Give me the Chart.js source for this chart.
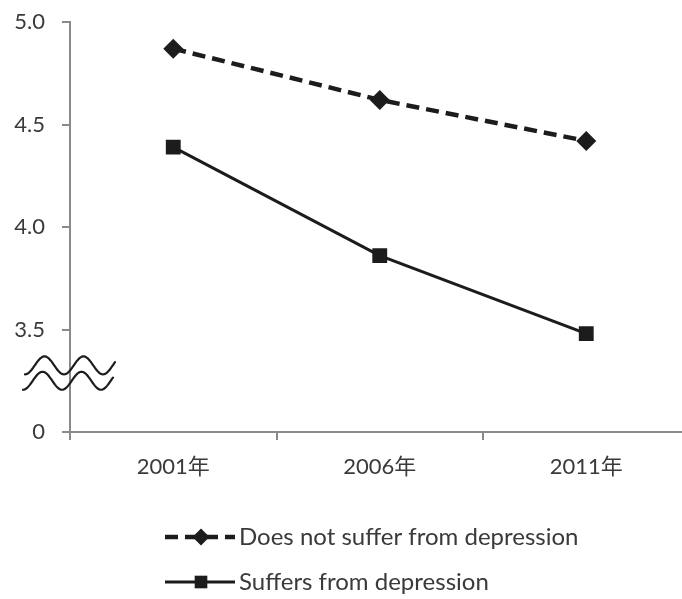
<!DOCTYPE html>
<html>
<head>
<meta charset="utf-8">
<script src="https://cdn.jsdelivr.net/npm/chart.js@4"></script>
<style>
  html, body { margin: 0; padding: 0; background: #fff; overflow: hidden; }
  #wrap { width: 682px; height: 599px; overflow: hidden; position: relative; }
  canvas { display: block; }
</style>
</head>
<body>
<div id="wrap"><canvas id="chart" width="700" height="599"></canvas></div>
<script>
// Survey years
const years = ['2001年', '2006年', '2011年'];
// Mean scores by group
const notDepressed = [4.87, 4.62, 4.42];
const depressed = [4.39, 3.86, 3.48];
const seriesNames = ['Does not suffer from depression', 'Suffers from depression'];
// Y axis: the bottom tick stands for zero (axis is broken below 3.5)
const yTickValues = [3.0, 3.5, 4.0, 4.5, 5.0];
const yTickLabels = ['0', '3.5', '4.0', '4.5', '5.0'];

const FONT = "Lato, 'Noto Sans CJK SC', sans-serif";
const TEXT = '#3a3a3a';
const AXIS = '#8a8a8a';
const INK = '#1c1c1c';

// Wavy break marks across the y axis
const axisBreak = {
  id: 'axisBreak',
  afterDraw(chart) {
    const ctx = chart.ctx;
    const y = chart.scales.y;
    const x0 = chart.chartArea.left - 45;
    const len = 90;
    const centres = [y.getPixelForValue(3.325), y.getPixelForValue(3.25)];
    ctx.save();
    ctx.strokeStyle = INK;
    ctx.lineWidth = 2.2;
    ctx.lineCap = 'round';
    centres.forEach((cy, k) => {
      const sx = x0 - k * 2;
      ctx.beginPath();
      for (let i = 0; i <= len; i++) {
        const px = sx + i;
        const py = cy + 9 * Math.cos(2 * Math.PI * i / 39);
        if (i === 0) ctx.moveTo(px, py); else ctx.lineTo(px, py);
      }
      ctx.stroke();
    });
    ctx.restore();
  }
};

// Legend rows below the axis: sample line with marker, then the series name
const lineLegend = {
  id: 'lineLegend',
  afterDraw(chart) {
    const ctx = chart.ctx;
    const left = chart.chartArea.left + 95;
    const rows = [537, 582];
    ctx.save();
    chart.data.datasets.forEach((ds, i) => {
      const cy = rows[i];
      ctx.strokeStyle = ds.borderColor;
      ctx.lineWidth = ds.borderWidth;
      ctx.setLineDash(ds.borderDash || []);
      ctx.beginPath();
      ctx.moveTo(left, cy);
      ctx.lineTo(left + 70, cy);
      ctx.stroke();
      ctx.setLineDash([]);
      ctx.fillStyle = ds.backgroundColor;
      Chart.helpers.drawPoint(ctx, {
        pointStyle: ds.pointStyle,
        radius: ds.pointRadius * 0.85,
        borderWidth: 0
      }, left + 36, cy);
      ctx.fillStyle = TEXT;
      ctx.font = '24px ' + FONT;
      ctx.textBaseline = 'middle';
      ctx.textAlign = 'left';
      ctx.fillText(ds.label, left + 74, cy);
    });
    ctx.restore();
  }
};

new Chart(document.getElementById('chart'), {
  type: 'line',
  data: {
    labels: years,
    datasets: [
      {
        label: seriesNames[0],
        data: notDepressed,
        borderColor: INK,
        backgroundColor: INK,
        borderWidth: 4.5,
        borderDash: [13, 7],
        pointStyle: 'rectRot',
        pointRadius: 10,
        pointBorderWidth: 0,
        fill: false,
        tension: 0
      },
      {
        label: seriesNames[1],
        data: depressed,
        borderColor: INK,
        backgroundColor: INK,
        borderWidth: 3,
        pointStyle: 'rect',
        pointRadius: 10.5,
        pointBorderWidth: 0,
        fill: false,
        tension: 0
      }
    ]
  },
  options: {
    responsive: false,
    animation: false,
    devicePixelRatio: 1,
    layout: { padding: { top: 22, right: 9, bottom: 0, left: 0 } },
    plugins: {
      legend: { display: false },
      tooltip: { enabled: false }
    },
    scales: {
      x: {
        type: 'category',
        offset: true,
        grid: {
          offset: true,
          drawOnChartArea: false,
          drawTicks: true,
          tickLength: 8,
          color: AXIS,
          lineWidth: 2
        },
        border: { color: AXIS, width: 2 },
        ticks: {
          color: TEXT,
          font: { family: FONT, size: 22 },
          padding: 14,
          maxRotation: 0
        },
        afterFit(scale) { scale.height = 167; }
      },
      y: {
        type: 'linear',
        min: 3.0,
        max: 5.0,
        afterBuildTicks(scale) {
          scale.ticks = yTickValues.map(v => ({ value: v }));
        },
        grid: {
          drawOnChartArea: false,
          drawTicks: true,
          tickLength: 8,
          color: AXIS,
          lineWidth: 2
        },
        border: { color: AXIS, width: 2 },
        ticks: {
          color: TEXT,
          font: { family: FONT, size: 22 },
          padding: 17,
          callback(value, index) { return yTickLabels[index]; }
        },
        afterFit(scale) {
          scale.width = 70;
          scale.paddingTop = 0;
          scale.paddingBottom = 0;
        }
      }
    }
  },
  plugins: [axisBreak, lineLegend]
});
</script>
</body>
</html>
